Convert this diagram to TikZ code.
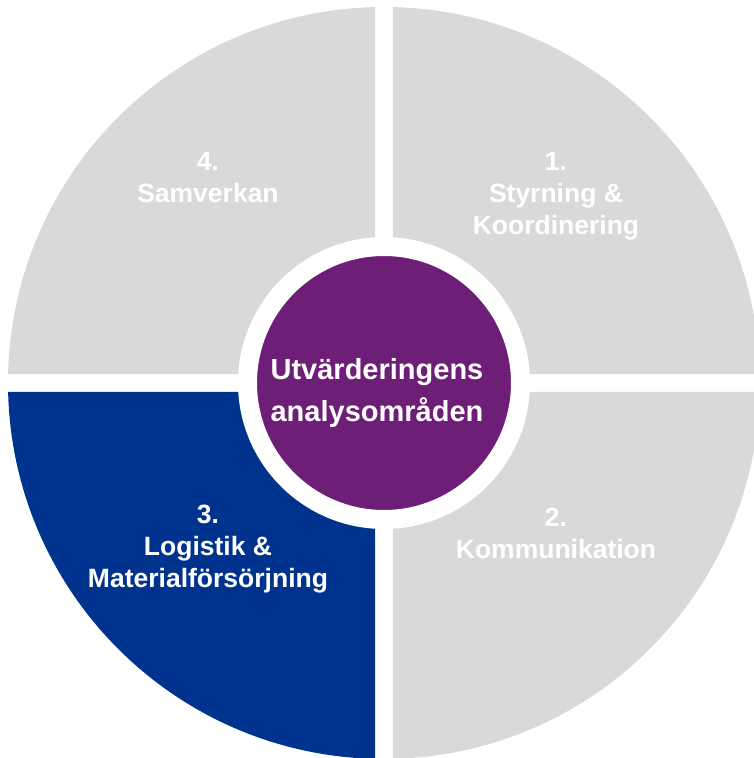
\documentclass[tikz,border=0pt]{standalone}
\usepackage{fontspec}
\setmainfont{Liberation Sans}
\usetikzlibrary{positioning}
\definecolor{quadgrey}{HTML}{D9D9D9}
\definecolor{quadblue}{HTML}{00338D}
\definecolor{hubpurple}{HTML}{6D1F78}
\tikzset{
	quadrant/.style={
		fill=quadgrey,
	},
	active/.style={
		fill=quadblue,
	},
	area/.style={
		text=white,
		align=center,
		inner sep=0pt,
		font=\fontsize{26.5}{32}\selectfont\bfseries,
	},
	hub/.style={
		circle,
		fill=hubpurple,
		draw=white,
		line width=19pt,
		minimum size=273pt,
		inner sep=0pt,
	},
	hubtext/.style={
		text=white,
		align=center,
		inner sep=0pt,
		font=\fontsize{29}{42}\selectfont\bfseries,
	},
}

\begin{document}
\begin{tikzpicture}[x=1pt,y=1pt]
		\useasboundingbox (-384,-375) rectangle (370,383);
		\clip (-384,-375) rectangle (370,383);

		% four quarters, cut apart by the gaps
		\foreach \ang/\sty in {0/quadrant,90/quadrant,180/active,270/quadrant}
			\fill[\sty,rotate=\ang] (9,9) -- (88.63:376)
				arc[start angle=88.63, end angle=1.37, radius=376] -- cycle;

		\node[area] (styrning) at (172,187)   {1.\\Styrning \&\\Koordinering};
		\node[area] (komm)     at (172,-150)  {2.\\Kommunikation};
		\node[area] (logistik) at (-176,-166) {3.\\Logistik \&\\Materialförsörjning};
		\node[area] (samverk)  at (-176,205)  {4.\\Samverkan};

		\node[hub] (hub) at (0,0) {};
		\node[hubtext] (title) at ([xshift=-7pt,yshift=-10pt]hub.center) {Utvärderingens\\analysområden};

	\end{tikzpicture}
\end{document}
